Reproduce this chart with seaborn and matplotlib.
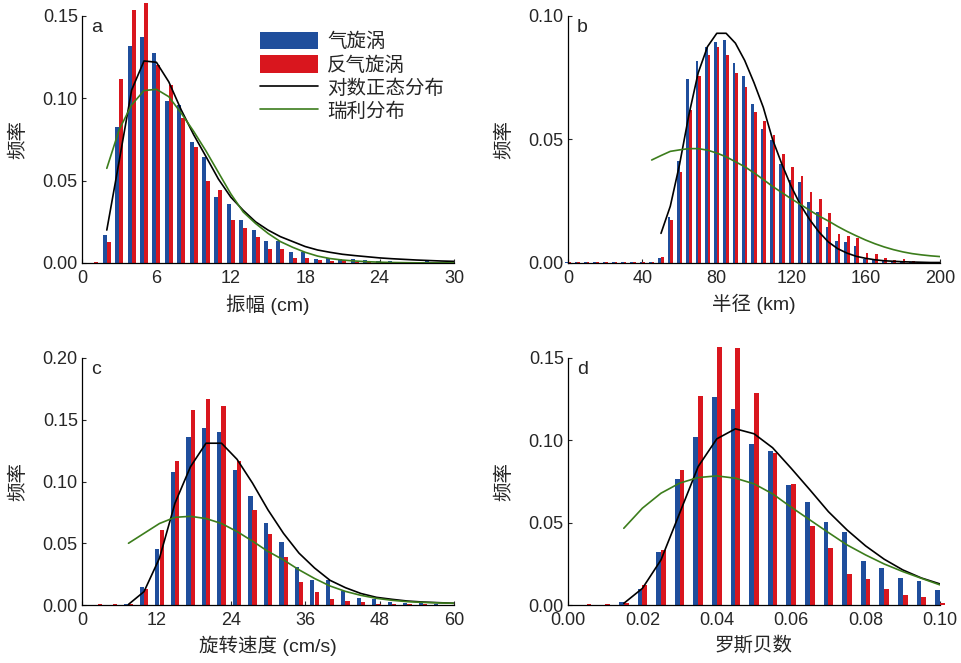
import numpy as np
import pandas as pd
import seaborn as sns
import matplotlib
matplotlib.use("Agg")
import matplotlib.pyplot as plt
from matplotlib.patches import Patch
from matplotlib.lines import Line2D

# ---------------------------------------------------------------------------
# data
# ---------------------------------------------------------------------------
# a: amplitude (cm), bins of 1 cm
ampBins = [1, 2, 3, 4, 5, 6, 7, 8, 9, 10, 11, 12, 13, 14, 15, 16, 17, 18, 19, 20,
           21, 22, 23, 24, 25, 26, 27, 28, 29, 30]
ampCyc = [0.0, 0.017, 0.0828, 0.1318, 0.1372, 0.1273, 0.0986, 0.096, 0.0735, 0.0646,
          0.0403, 0.036, 0.026, 0.020, 0.0132, 0.0136, 0.0065, 0.0065, 0.0024, 0.0032,
          0.0026, 0.0026, 0.002, 0.0015, 0.001, 0.0008, 0.0006, 0.0012, 0.0004, 0.0003]
ampAnti = [0.0005, 0.0126, 0.1115, 0.1538, 0.158, 0.120, 0.108, 0.0883, 0.0702, 0.050,
           0.0443, 0.026, 0.0215, 0.0156, 0.0083, 0.0083, 0.0032, 0.0032, 0.0016, 0.0012,
           0.0016, 0.0008, 0.0006, 0.0004, 0.0004, 0.0003, 0.0003, 0.0002, 0.0002, 0.0002]
ampFitX = [2, 3, 4, 5, 6, 7, 8, 9, 10, 11, 12, 13, 14, 15, 16, 17, 18, 19, 20,
           21, 22, 23, 24, 25, 26, 27, 28, 29, 30]
ampLogn = [0.020, 0.062, 0.105, 0.1227, 0.1219, 0.110, 0.093, 0.078, 0.0646, 0.051,
           0.040, 0.032, 0.025, 0.020, 0.016, 0.013, 0.010, 0.0079, 0.0065, 0.0053,
           0.0045, 0.0038, 0.0031, 0.0026, 0.0022, 0.0018, 0.0015, 0.0012, 0.001]
ampRayl = [0.0575, 0.081, 0.096, 0.1047, 0.1055, 0.101, 0.091, 0.080, 0.068, 0.055,
           0.042, 0.031, 0.024, 0.018, 0.013, 0.0095, 0.0065, 0.0042, 0.0027, 0.0018,
           0.0012, 0.0008, 0.0005, 0.0003, 0.0002, 0.0001, 0.0001, 0.0001, 0.0001]

# b: radius (km), bins of 5 km
radBins = [0, 5, 10, 15, 20, 25, 30, 35, 40, 45, 50, 55, 60, 65, 70, 75, 80, 85, 90, 95,
           100, 105, 110, 115, 120, 125, 130, 135, 140, 145, 150, 155, 160, 165, 170,
           175, 180, 185, 190, 195, 200]
radCyc = [0.0003, 0.0003, 0.0003, 0.0003, 0.0003, 0.0003, 0.0003, 0.0003, 0.0003, 0.0003,
          0.002, 0.0186, 0.0412, 0.0744, 0.0819, 0.0876, 0.0893, 0.0904, 0.081, 0.0757,
          0.0644, 0.0544, 0.0498, 0.040, 0.0336, 0.0327, 0.0247, 0.0206, 0.0144, 0.0089,
          0.0085, 0.0069, 0.0016, 0.0012, 0.001, 0.0007, 0.0005, 0.0004, 0.0003, 0.0002,
          0.0001]
radAnti = [0.0003, 0.0003, 0.0003, 0.0003, 0.0003, 0.0003, 0.0003, 0.0003, 0.0003, 0.0003,
           0.0024, 0.0173, 0.037, 0.0619, 0.0757, 0.0841, 0.0876, 0.0843, 0.0768, 0.0714,
           0.0613, 0.0574, 0.0518, 0.0441, 0.0389, 0.0351, 0.0286, 0.0258, 0.0202, 0.0116,
           0.0108, 0.0101, 0.0042, 0.0035, 0.0019, 0.0012, 0.0016, 0.0007, 0.0004, 0.0003,
           0.0002]
radLognX = [50, 55, 60, 65, 70, 75, 80, 85, 90, 95, 100, 105, 110, 115, 120, 125, 130,
            135, 140, 145, 150, 155, 160, 165, 170, 175, 180, 185, 190, 195, 200]
radLogn = [0.012, 0.023, 0.040, 0.060, 0.077, 0.0876, 0.093, 0.093, 0.089, 0.082, 0.073,
           0.063, 0.050, 0.040, 0.031, 0.0235, 0.0175, 0.0125, 0.0085, 0.0058, 0.004,
           0.0027, 0.0019, 0.0013, 0.0009, 0.0007, 0.0005, 0.0004, 0.0003, 0.0002, 0.0002]
radRaylX = [45, 50, 55, 60, 65, 70, 75, 80, 85, 90, 95, 100, 105, 110, 115, 120, 125, 130,
            135, 140, 145, 150, 155, 160, 165, 170, 175, 180, 185, 190, 195, 200]
radRayl = [0.0417, 0.0435, 0.0452, 0.0458, 0.0463, 0.0463, 0.0457, 0.0445, 0.043, 0.041,
           0.039, 0.0365, 0.0338, 0.031, 0.0285, 0.026, 0.0237, 0.0213, 0.019, 0.017,
           0.0148, 0.0128, 0.011, 0.0093, 0.0078, 0.0065, 0.0054, 0.0045, 0.0038, 0.0033,
           0.0029, 0.0026]

# c: rotational speed (cm/s), bins of 2.5 cm/s
rotBins = [2.5, 5, 7.5, 10, 12.5, 15, 17.5, 20, 22.5, 25, 27.5, 30, 32.5, 35, 37.5, 40,
           42.5, 45, 47.5, 50, 52.5, 55, 57.5, 60]
rotCyc = [0.0, 0.0, 0.0005, 0.0143, 0.0452, 0.108, 0.136, 0.1433, 0.1398, 0.109, 0.0879,
          0.0668, 0.0508, 0.031, 0.0203, 0.0203, 0.0116, 0.0059, 0.0046, 0.0024, 0.0019,
          0.0014, 0.0008, 0.0003]
rotAnti = [0.0005, 0.0005, 0.0005, 0.0127, 0.0608, 0.1162, 0.158, 0.1665, 0.1608, 0.1162,
           0.077, 0.0576, 0.039, 0.0189, 0.0108, 0.0049, 0.0032, 0.0022, 0.0011, 0.0008,
           0.0005, 0.0005, 0.0004, 0.0003]
rotFitX = [7.5, 10, 12.5, 15, 17.5, 20, 22.5, 25, 27.5, 30, 32.5, 35, 37.5, 40, 42.5, 45,
           47.5, 50, 52.5, 55, 57.5, 60]
rotLogn = [0.0005, 0.0108, 0.038, 0.0825, 0.112, 0.131, 0.131, 0.118, 0.0987, 0.077, 0.058,
           0.042, 0.030, 0.020, 0.014, 0.0093, 0.0062, 0.0046, 0.0032, 0.0024, 0.0019, 0.0014]
rotRayl = [0.050, 0.058, 0.066, 0.071, 0.0718, 0.070, 0.066, 0.0595, 0.0517, 0.0434, 0.0365,
           0.0285, 0.0215, 0.0154, 0.011, 0.0078, 0.0054, 0.0038, 0.0027, 0.0021, 0.0017,
           0.0014]

# d: Rossby number, bins of 0.005
rosBins = [0.005, 0.01, 0.015, 0.02, 0.025, 0.03, 0.035, 0.04, 0.045, 0.05, 0.055, 0.06,
           0.065, 0.07, 0.075, 0.08, 0.085, 0.09, 0.095, 0.10]
rosCyc = [0.0, 0.0, 0.0016, 0.0095, 0.032, 0.0766, 0.1021, 0.1266, 0.119, 0.0977, 0.0936,
          0.073, 0.0626, 0.0503, 0.0444, 0.0267, 0.0227, 0.0162, 0.0146, 0.0093]
rosAnti = [0.0005, 0.0005, 0.0014, 0.012, 0.0334, 0.082, 0.127, 0.1566, 0.156, 0.1287,
           0.0926, 0.0734, 0.048, 0.0345, 0.019, 0.0158, 0.0095, 0.0061, 0.0047, 0.001]
rosFitX = [0.015, 0.02, 0.025, 0.03, 0.035, 0.04, 0.045, 0.05, 0.055, 0.06, 0.065, 0.07,
           0.075, 0.08, 0.085, 0.09, 0.095, 0.10]
rosLogn = [0.001, 0.0101, 0.0274, 0.0557, 0.0841, 0.1009, 0.107, 0.104, 0.0955, 0.083,
           0.070, 0.0567, 0.0456, 0.0359, 0.0278, 0.0213, 0.0164, 0.0128]
rosRayl = [0.0466, 0.0588, 0.0679, 0.074, 0.0774, 0.0784, 0.077, 0.0736, 0.0675, 0.0594,
           0.0517, 0.044, 0.0365, 0.0304, 0.0249, 0.0203, 0.0162, 0.0122]

legendLabels = ["气旋涡", "反气旋涡", "对数正态分布", "瑞利分布"]

BLUE = "#1f4e9c"
RED = "#d9161e"
GREEN = "#3c7d1c"

W, H = 962, 663


def DrawPanel(fig, box, letter, bins, cyc, anti, barW, lognX, logn, raylX, rayl,
              xlim, xticks, xfmt, ylim, yticks, xlabel):
    l, t, r, b = box
    ax = fig.add_axes([l / W, 1 - b / H, (r - l) / W, (b - t) / H])
    bins = np.asarray(bins, dtype=float)
    ax.bar(bins - barW, cyc, width=barW, align="edge", color=BLUE, lw=0, clip_on=False)
    ax.bar(bins, anti, width=barW, align="edge", color=RED, lw=0, clip_on=False)
    sns.lineplot(x=lognX, y=logn, ax=ax, color="black", lw=1.2, legend=False)
    sns.lineplot(x=raylX, y=rayl, ax=ax, color=GREEN, lw=1.2, legend=False)
    ax.set_xlim(*xlim)
    ax.set_ylim(*ylim)
    ax.set_xticks(xticks)
    ax.set_xticklabels([xfmt.format(v) for v in xticks])
    ax.set_yticks(yticks)
    ax.set_yticklabels(["{:.2f}".format(v) for v in yticks])
    ax.tick_params(direction="in", length=3, width=0.8, labelsize=13, pad=3)
    ax.tick_params(axis="x", pad=5)
    sns.despine(ax=ax)
    for s in ["left", "bottom"]:
        ax.spines[s].set_linewidth(0.9)
        ax.spines[s].set_color("black")
    ax.set_xlabel(xlabel, fontsize=14)
    ax.set_ylabel("频率", fontsize=14)
    ax.xaxis.set_label_coords(0.5, -0.125)
    ax.yaxis.set_label_coords(-0.148, 0.5)
    ax.text(0.038, 0.955, letter, transform=ax.transAxes, fontsize=14,
            ha="center", va="center")
    return ax


def main():
    sns.set_theme(style="ticks")
    plt.rcParams["font.family"] = ["Liberation Sans", "Noto Sans CJK SC"]
    plt.rcParams["axes.unicode_minus"] = False

    fig = plt.figure(figsize=(W / 100, H / 100), dpi=100)

    DrawPanel(fig, (82, 16, 454, 263), "a", ampBins, ampCyc, ampAnti, 0.32,
              ampFitX, ampLogn, ampFitX, ampRayl, (0, 30), [0, 6, 12, 18, 24, 30],
              "{:d}", (0, 0.15), [0.0, 0.05, 0.10, 0.15], "振幅 (cm)")
    DrawPanel(fig, (568, 16, 940, 263), "b", radBins, radCyc, radAnti, 1.4,
              radLognX, radLogn, radRaylX, radRayl, (0, 200), [0, 40, 80, 120, 160, 200],
              "{:d}", (0, 0.10), [0.0, 0.05, 0.10], "半径 (km)")
    DrawPanel(fig, (82, 358, 454, 605), "c", rotBins, rotCyc, rotAnti, 0.65,
              rotFitX, rotLogn, rotFitX, rotRayl, (0, 60), [0, 12, 24, 36, 48, 60],
              "{:d}", (0, 0.20), [0.0, 0.05, 0.10, 0.15, 0.20], "旋转速度 (cm/s)")
    DrawPanel(fig, (568, 358, 940, 605), "d", rosBins, rosCyc, rosAnti, 0.0013,
              rosFitX, rosLogn, rosFitX, rosRayl, (0, 0.10),
              [0.0, 0.02, 0.04, 0.06, 0.08, 0.10], "{:.2f}",
              (0, 0.15), [0.0, 0.05, 0.10, 0.15], "罗斯贝数")

    handles = [Patch(color=BLUE, lw=0), Patch(color=RED, lw=0),
               Line2D([], [], color="black", lw=1.2), Line2D([], [], color=GREEN, lw=1.2)]
    fig.legend(handles, legendLabels, loc="upper left",
               bbox_to_anchor=(260 / W, 1 - 32 / H), frameon=False, fontsize=14,
               handlelength=3.0, handleheight=1.0, handletextpad=0.45,
               labelspacing=0.2, borderpad=0, borderaxespad=0)

    fig.savefig("out.png", dpi=100)


if __name__ == "__main__":
    main()
